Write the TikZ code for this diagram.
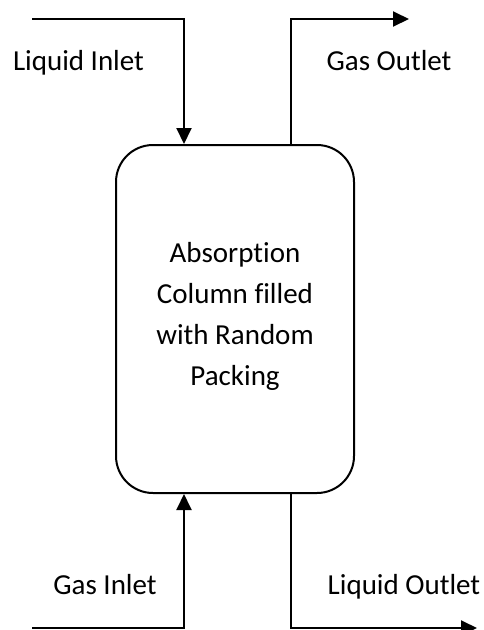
\documentclass[tikz,border=0pt]{standalone}
\usepackage{fontspec}
\setmainfont[Ligatures={NoCommon}]{Carlito}
\usetikzlibrary{arrows.meta}
\begin{document}
\begin{tikzpicture}[x=1pt,y=-1pt,
  line/.style={line width=2pt},
  arr/.style={line width=2pt,-{Triangle[width=15pt,length=16pt]}},
  lbl/.style={inner sep=0pt,anchor=base,font=\fontsize{29}{41}\selectfont},
  column/.style={draw,line width=2pt,rounded corners=37pt,minimum width=238pt,minimum height=348pt,inner sep=0pt}]
\useasboundingbox (0,0) rectangle (484,630);
\node[column] (box) at (235,319) {};
\node[lbl] (t1) at (235,262) {Absorption};
\node[lbl] (t2) at (235,303) {Column filled};
\node[lbl] (t3) at (235,344) {with Random};
\node[lbl] (t4) at (235,385) {Packing};
% liquid inlet
\coordinate (liS) at (32,19);
\coordinate (liC) at (184,19);
\draw[arr] (liS) -- (liC) -- (liC |- box.north);
\node[lbl] (liL) at (78.5,70) {Liquid Inlet};
% gas outlet
\coordinate (goC) at (291,19);
\coordinate (goE) at (409,19);
\draw[arr] (goC |- box.north) -- (goC) -- (goE);
\node[lbl] (goL) at (389,70) {Gas Outlet};
% gas inlet
\coordinate (giS) at (32,628);
\coordinate (giC) at (184,628);
\draw[arr] (giS) -- (giC) -- (giC |- box.south);
\node[lbl] (giL) at (105,594) {Gas Inlet};
% liquid outlet
\coordinate (loC) at (291,628);
\coordinate (loE) at (477,628);
\draw[arr] (loC |- box.south) -- (loC) -- (loE);
\node[lbl] (loL) at (404,594) {Liquid Outlet};
\end{tikzpicture}
\end{document}
